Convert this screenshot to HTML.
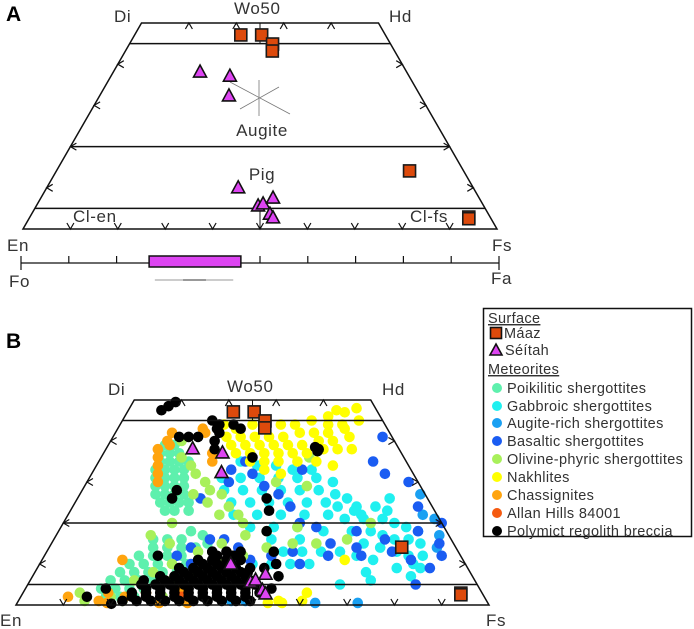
<!DOCTYPE html>
<html><head><meta charset="utf-8"><style>
html,body{margin:0;padding:0;background:#fff;}
svg{display:block;font-family:"Liberation Sans",sans-serif;}
</style></head><body>
<svg id="fig" width="694" height="629" viewBox="0 0 694 629">
<g id="panelA"></g>
<g id="panelB"></g>
<g id="legend"></g>
</svg>
<script>
// ---- Data: [Fs, Wo] molar % ----
const maazPts = [[22.4,47.1],[26.8,47.1],[30.2,44.9],[31.0,43.2],[74.5,14.1],[92.6,2.9],[92.8,2.5]];
const seitahPts = [[18.3,38.1],[25.1,37.1],[27.3,32.3],[40.4,10.0],[46.8,5.6],[47.6,6.1],[49.0,7.5],[50.3,3.6],[51.4,2.7]];
const poikiliticPts = [[12,37],[14,37],[16,37],[13,35],[15,35],[17,35],[19,35],[13,33],[15,33],[17,33],[19,33],[14,31],[16,31],[18,31],[20,31],[15,29],[17,29],[19,29],[21,29],[16,27],[18,27],[20,27],[22,27],[18,25],[20,25],[22,25],[24,25],[20,23],[22,23],[25,23],[12,39],[14,39],
[21,16],[24,16],[27,16],[22,14],[25,14],[28,14],[31,14],[20,12],[23,12],[26,12],[29,12],[19,10],[22,10],[25,10],[28,10],[31,10],[18,8],[21,8],[24,8],[27,8],[30,8],[17,6],[20,6],[23,6],[26,6],[16,4],[19,4],[22,4],[25,4],[18,2],[21,2],[24,2],[28,18],[31,17],[33,15]];
const gabbroicPts = [[30,35],[34,34],[38,34],[42,33],[46,33],[28,31],[32,31],[36,31],[40,31],[44,31],[48,31],[52,30],[30,28],[34,28],[38,28],[42,28],[46,28],[50,28],[54,27],[33,25],[37,25],[41,25],[45,25],[49,25],[53,25],[57,26],[35,22],[40,22],[45,22],[50,22],[55,22],[60,23],[40,19],[45,19],[50,19],[56,18],
[56,24],[60,24],[64,24],[67,23],[59,21],[63,21],[67,21],[70,20],[73,19],[76,18],[62,18],[66,18],[69,17],[72,16],[75,16],[78,15],[66,15],[70,14],[74,13],[77,12],[80,12],[50,13],[54,13],[58,13],[62,13],[66,12],[70,11],[79,10],[81,9],[45,10],[49,10],[53,10],[57,10],[76,9],[80,7],[72,6],[62,22],[66,26],[52,16],[46,16],[70,8],[66,5]];
const augitePts = [[78,21],[81,17],[82,14],[72,27],[75,22],[45,1],[63,0.5],[48,1],[72,0.5]];
const basalticPts = [[57,41],[58,35],[62,32],[68,30],[73,24],[80,20],[82,15],[84,12],[78,11],[76,18],[70,16],[65,14],[60,12],[55,10],[52,13],[48,12],[44,11],[40,14],[36,16],[33,16],[30,14],[28,12],[32,10],[26,26],[30,30],[34,32],[38,29],[42,27],[46,24],[50,20],[54,19],[59,15],[63,18],[67,12],[73,13],[44,33],[83,9],[82,5],[29,33],[31,35]];
const olivinePts = [[15,40],[17,36],[20,34],[22,32],[25,30],[27,28],[30,27],[33,24],[36,22],[38,20],[20,28],[24,27],[28,25],[32,22],[40,30],[47,29],[50,19],[44,18],[40,17],[36,15],[32,13],[28,10],[25,8],[22,6],[30,6],[34,8],[38,10],[42,12],[46,14],[51,15],[56,15],[62,16],[65,20],[26,3],[30,2],[35,1],[22,1],[19,2],[25,15],[20,17],[23,20],[44,36],[12,3],[14,1]];
const nakhlitePts = [[22,44],[25,43],[28,44],[31,43],[34,44],[37,44],[40,45],[43,46],[46,47],[48,48],[44,47.5],[24,41],[27,41],[30,41],[33,41],[36,41],[39,42],[42,42],[45,42],[48,43],[26,39],[29,39],[32,39],[35,39],[38,39],[41,39],[44,40],[47,40],[50,41],[28,37],[31,37],[34,37],[37,37],[40,37],[43,37],[46,38],[49,38],[52,38],[32,35],[35,35],[38,35],[42,35],[46,35],[50,34],[47,44],[44,44],[50,45],[36,33],[40,32],[55,1],[56,0.5],[60,1],[64,11],[60,3],[53,0.5]];
const chassignitePts = [[12,42],[12,40],[11,38],[12,36],[13,34],[14,32],[15,30],[13,39],[18,43],[19,42],[23,37],[24,35],[18,3],[17,1],[19,0.5],[22,2],[17,11],[30,0.5],[36,0.5],[33,4],[10,2]];
const alhPts = [[26,3],[34,2]];
const brecciaPts = [[8,48.5],[7,47.5],[9,49.5],[19,45],[21,44],[21,43],[18,41],[14,41],[16,41],[22,40],[23,38],[45,38],[45,37.5],[44,38.5],[40,26],[42,23],[44,18],[20,26],[20,28],[22,42],[26,43],[24,44],[32,36],[24,12],[35,13],[40,12],[48,13],[50,10],[45,8],[42,9],
[22,1],[25,1],[28,1],[31,1],[34,1],[37,1],[40,1],[43,1],[46,1],[49,1],[23,3],[26,3],[29,3],[32,3],[35,3],[38,3],[41,3],[44,3],[47,3],[50,3],[24,5],[27,5],[30,5],[33,5],[36,5],[39,5],[42,5],[45,5],[48,5],[27,7],[30,7],[33,7],[36,7],[39,7],[42,7],[45,7],[30,9],[33,9],[36,9],[39,9],[42,9],[45,9],[33,11],[36,11],[39,11],[42,11],[35,13],[38,13],[41,13],[14,2],[17,4],[20,0.3],[24,6],[52,4],[52,7],[48,9],
[23.5,2],[26.5,2],[29.5,2],[32.5,2],[35.5,2],[38.5,2],[41.5,2],[44.5,2],[47.5,2],[25.5,4],[28.5,4],[31.5,4],[34.5,4],[37.5,4],[40.5,4],[43.5,4],[46.5,4],[28.5,6],[31.5,6],[34.5,6],[37.5,6],[40.5,6],[43.5,6],[46.5,6],[31.5,8],[34.5,8],[37.5,8],[40.5,8],[43.5,8],[34.5,10],[37.5,10],[40.5,10],[36.5,12],[39.5,12]];
const meteoriteSeries = ['Poikilitic shergottites','Gabbroic shergottites','Augite-rich shergottites','Basaltic shergottites','Olivine-phyric shergottites','Nakhlites','Chassignites','Allan Hills 84001','Polymict regolith breccia'];
const meteoriteColors = ['#5ef0ad','#20f0f0','#1aa0f2','#1a5cf2','#a8f05a','#ffff00','#ffa40e','#f55a10','#000000'];
const meteoriteData = [poikiliticPts,gabbroicPts,augitePts,basalticPts,olivinePts,nakhlitePts,chassignitePts,alhPts,brecciaPts];
const topTicks = [10,20,30,40];
const bottomTicks = [10,20,30,40,60,70,80,90];
const sideTicks = [10,20,30,40];
const fieldLines = [5,20,45];
const olivineTicks = [0,10,20,30,40,50,60,70,80,90,100];
const olivineRange = [26.8,46];
const olivineLine = [28,44.4];
const olivineDark = [33.9,38.7];

const NS='http://www.w3.org/2000/svg';
function mk(tag,attrs,parent){const e=document.createElementNS(NS,tag);for(const k in attrs)e.setAttribute(k,attrs[k]);parent.appendChild(e);return e;}
function makeAxes(x0,yb,W,H){return {x:(fs,wo)=>x0+W*(fs+wo/2)/100,y:wo=>yb-H*wo/50,x0,yb,W,H};}
const A = makeAxes(23,229,474,206);
const B = makeAxes(16,605,473,205);

function drawFrame(g,ax){
  const P=(fs,wo)=>[ax.x(fs,wo),ax.y(wo)];
  const q=[P(0,0),P(100,0),P(50,50),P(0,50)];
  let e=mk('polygon',{points:q.map(p=>p.join(',')).join(' '),fill:'none',stroke:'#111','stroke-width':1.5},g);
  
  fieldLines.forEach(w=>{
    const l=mk('line',{x1:ax.x(0,w),y1:ax.y(w),x2:ax.x(100-w,w),y2:ax.y(w),stroke:'#111','stroke-width':1.5},g);
    
  });
  mk('line',{x1:ax.x(25,50),y1:ax.y(50),x2:ax.x(25,50),y2:ax.y(45),stroke:'#111','stroke-width':1},g);
  topTicks.forEach(t=>{const x=ax.x(t,50),y=ax.y(50);
    const p=mk('path',{d:`M${x-3.5},${y+6}L${x},${y}L${x+3.5},${y+6}`,fill:'none',stroke:'#111','stroke-width':1.2},g);
    });
  bottomTicks.forEach(t=>{const x=ax.x(t,0),y=ax.y(0);
    const p=mk('path',{d:`M${x-3.5},${y-6}L${x},${y}L${x+3.5},${y-6}`,fill:'none',stroke:'#111','stroke-width':1.2},g);
    });
  { const x=ax.x(50,0),y=ax.y(0);
    mk('line',{x1:x,y1:ax.y(5),x2:x,y2:y,stroke:'#111','stroke-width':1},g);
    mk('path',{d:`M${x-3.5},${y-6}L${x},${y}L${x+3.5},${y-6}`,fill:'none',stroke:'#111','stroke-width':1.2},g); }
  sideTicks.forEach(w=>{const y=ax.y(w);
    const xl=ax.x(0,w), xr=ax.x(100-w,w);
    const p1=mk('path',{d:`M${xl+6},${y-3.5}L${xl},${y}L${xl+6},${y+3.5}`,fill:'none',stroke:'#111','stroke-width':1.2},g);
    
    const p2=mk('path',{d:`M${xr-6},${y-3.5}L${xr},${y}L${xr-6},${y+3.5}`,fill:'none',stroke:'#111','stroke-width':1.2},g);
    });
}
function label(g,txt,x,y,name,opts){
  const t=mk('text',Object.assign({x:x,y:y,'font-size':17,fill:'#333','letter-spacing':0.6},opts||{}),g);
  t.textContent=txt;return t;
}
function square(g,ax,p){
  const x=ax.x(p[0],p[1]),y=ax.y(p[1]);
  const r=mk('rect',{x:x-6,y:y-6,width:12,height:12,fill:'#dd4a0c',stroke:'#1a1a1a','stroke-width':1.6},g);
  
}
function tri(g,ax,p){
  const x=ax.x(p[0],p[1]),y=ax.y(p[1]);
  const t=mk('polygon',{points:`${x},${y-7} ${x+6.5},${y+5} ${x-6.5},${y+5}`,fill:'#dd44f2',stroke:'#111','stroke-width':1.6},g);
  
}

// Panel A
const gA=document.getElementById('panelA');
drawFrame(gA,A);
label(gA,'A',6,21,'panel-a-label',{'font-size':21,'font-weight':'bold',fill:'#000','letter-spacing':0});
label(gA,'Di',114,22,'di-label');label(gA,'Wo50',234,14,'wo50-label');label(gA,'Hd',389,22,'hd-label');
label(gA,'Augite',262,136,'augite-label',{'text-anchor':'middle'});
label(gA,'Pig',262,180,'pig-label',{'text-anchor':'middle'});
label(gA,'Cl-en',73,222,'cl-en-label');label(gA,'Cl-fs',410,222,'cl-fs-label');
label(gA,'En',7,251,'en-label-a');label(gA,'Fs',492,251,'fs-label-a');
label(gA,'Fo',9,287,'fo-label');label(gA,'Fa',491,284,'fa-label');
[[259,80,259,116],[230,82,290,114],[240,109,279,87]].forEach(l=>mk('line',{x1:l[0],y1:l[1],x2:l[2],y2:l[3],stroke:'#777','stroke-width':0.8},gA));
const ox=v=>21+4.78*v;
mk('line',{x1:ox(0),y1:263,x2:ox(100),y2:263,stroke:'#111','stroke-width':1.2},gA);
olivineTicks.forEach((v,i)=>{const e=(i===0||i===olivineTicks.length-1);
  const t=mk('line',{x1:ox(v),y1:256,x2:ox(v),y2:e?270:263,stroke:'#111','stroke-width':1.2},gA);
  });
{const r=mk('rect',{x:ox(olivineRange[0]),y:256,width:ox(olivineRange[1])-ox(olivineRange[0]),height:11,fill:'#dd44f2',stroke:'#111','stroke-width':1.5},gA);
 }
mk('line',{x1:ox(olivineLine[0]),y1:280,x2:ox(olivineLine[1]),y2:280,stroke:'#999','stroke-width':1},gA);
mk('line',{x1:ox(olivineDark[0]),y1:280,x2:ox(olivineDark[1]),y2:280,stroke:'#333','stroke-width':1},gA);
seitahPts.forEach(p=>tri(gA,A,p));
maazPts.forEach(p=>square(gA,A,p));

// Panel B
const gB=document.getElementById('panelB');
label(gB,'B',6,348,'panel-b-label',{'font-size':21,'font-weight':'bold',fill:'#000','letter-spacing':0});
label(gB,'Di',108,395,'di-label-b');label(gB,'Wo50',227,392,'wo50-label-b');label(gB,'Hd',382,395,'hd-label-b');
label(gB,'En',0,626,'en-label-b');label(gB,'Fs',486,626,'fs-label-b');
const gPts=mk('g',{},gB);
meteoriteData.forEach((arr,si)=>{
  arr.forEach(p=>{
    const c=mk('circle',{cx:B.x(p[0],p[1]),cy:B.y(p[1]),r:5.3,fill:meteoriteColors[si]},gPts);
    
    
  });
});
drawFrame(gB,B);
seitahPts.forEach(p=>tri(gB,B,p));
maazPts.forEach(p=>square(gB,B,p));

// Legend
const gL=document.getElementById('legend');
{const r=mk('rect',{x:483.5,y:308.5,width:208,height:228,fill:'#fff',stroke:'#111','stroke-width':1.5},gL);
 }
const lf={'font-size':14.5,fill:'#333','letter-spacing':0.35};
label(gL,'Surface',488,323,'legend-surface-heading',Object.assign({'text-decoration':'underline'},lf));
mk('rect',{x:490.5,y:327.5,width:11,height:11,fill:'#dd4a0c',stroke:'#111','stroke-width':1.6},gL);
label(gL,'Máaz',504,338,'legend-entry-maaz',lf);
mk('polygon',{points:'496,344 502,355 490,355',fill:'#dd44f2',stroke:'#111','stroke-width':1.6},gL);
label(gL,'Séítah',505,355,'legend-entry-seitah',lf);
label(gL,'Meteorites',488,374,'legend-meteorites-heading',Object.assign({'text-decoration':'underline'},lf));
const ly=[389,407,424,442,460,478,496,514,532];
meteoriteSeries.forEach((s,i)=>{
  const c=mk('circle',{cx:497,cy:ly[i]-1,r:5,fill:meteoriteColors[i]},gL);
  
  label(gL,s,507,ly[i]+4,'legend-entry',lf);
});
</script>
</body></html>
